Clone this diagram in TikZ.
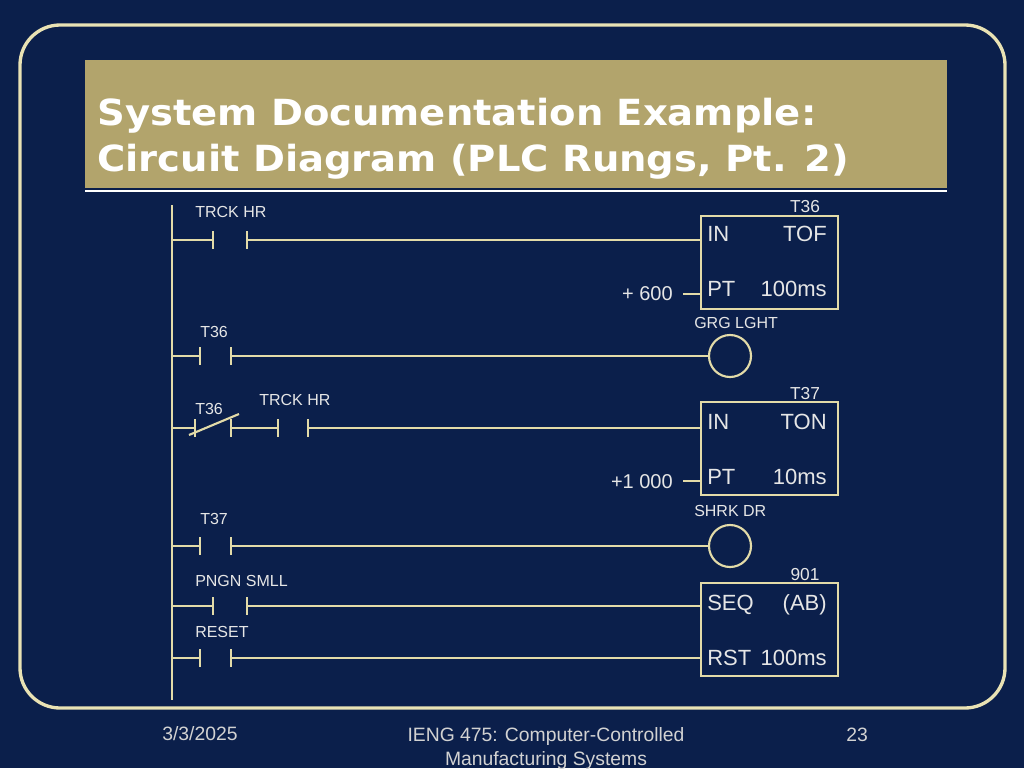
\documentclass[tikz,border=0pt]{standalone}
\usepackage{fontspec}
\setmainfont{Liberation Sans}
\newfontfamily\titlefont{DejaVu Sans}
\definecolor{bg}{HTML}{0B1F4B}
\definecolor{frm}{HTML}{E9E2B4}
\definecolor{bar}{HTML}{B2A46C}
\definecolor{wire}{HTML}{E3DBA8}
\definecolor{txt}{HTML}{E6E6E6}
\begin{document}
\begin{tikzpicture}[x=0.75pt,y=-0.75pt,
  wirel/.style={draw=wire,line width=1.3pt},
  plate/.style={draw=wire,line width=1.6pt},
  lbl/.style={text=txt,font=\fontsize{12}{14}\selectfont,inner sep=0pt},
  boxt/.style={text=txt,font=\fontsize{16.5}{19}\selectfont,inner sep=0pt},
  fbox/.style={draw=wire,line width=1.5pt,minimum width=137*0.75pt,minimum height=93*0.75pt,inner sep=0pt},
  lamp/.style={draw=wire,line width=1.6pt,circle,minimum size=42*0.75pt,inner sep=0pt},
  foot/.style={text=txt!80!gray,font=\fontsize{14.5}{17}\selectfont,inner sep=0pt}]
\fill[bg] (0,0) rectangle (1024,768);
\useasboundingbox (0,0) rectangle (1024,768);
\draw[frm,line width=2.5pt,rounded corners=30pt] (20,25) rectangle (1005,708);
\fill[bar] (85,60) rectangle (947,188);
\draw[white,line width=1pt] (85,191) -- (947,191);
\node[anchor=base west,text=white,font=\titlefont\bfseries\fontsize{27}{30}\selectfont,inner sep=0pt,xscale=1.07] (t1) at (97,125) {System Documentation Example:};
\node[anchor=base west,text=white,font=\titlefont\bfseries\fontsize{27}{30}\selectfont,inner sep=0pt,xscale=1.07] (t2) at (97,171) {Circuit Diagram (PLC Rungs, Pt. 2)};
% rail
\coordinate (rt) at (172,205); \coordinate (rb) at (172,700);
\draw[wirel] (rt) -- (rb);
% boxes
\node[fbox,anchor=north west] (tof) at (700,215) {};
\node[fbox,anchor=north west] (ton) at (700,401) {};
\node[fbox,anchor=north west] (seq) at (700,582) {};
\node[lamp] (l1) at (730,356) {};
\node[lamp] (l2) at (730,546) {};
% box texts
\node[boxt,anchor=base west] at (707,241) {IN};
\node[boxt,anchor=base east] at (827,241) {TOF};
\node[boxt,anchor=base west] at (707,296) {PT};
\node[boxt,anchor=base east] at (827,296) {100ms};
\node[lbl,anchor=base,font=\fontsize{13}{15}\selectfont] at (805,212) {T36};
\node[boxt,anchor=base west] at (707,429) {IN};
\node[boxt,anchor=base east] at (827,429) {TON};
\node[boxt,anchor=base west] at (707,484) {PT};
\node[boxt,anchor=base east] at (827,484) {10ms};
\node[lbl,anchor=base,font=\fontsize{13}{15}\selectfont] at (805,399) {T37};
\node[boxt,anchor=base west] at (707,610) {SEQ};
\node[boxt,anchor=base east] at (827,610) {(AB)};
\node[boxt,anchor=base west] at (707,665) {RST};
\node[boxt,anchor=base east] at (827,665) {100ms};
\node[lbl,anchor=base,font=\fontsize{13}{15}\selectfont] at (805,580) {901};
% preset inputs
\node[boxt,anchor=base east,font=\fontsize{15}{17}\selectfont] (p1) at (673,300) {+ 600};
\node[boxt,anchor=base east,font=\fontsize{15}{17}\selectfont] (p2) at (673,488) {+1 000};
\draw[wirel] (683,294) -- (tof.west |- 0,294);
\draw[wirel] (683,481) -- (ton.west |- 0,481);
% rung 1
\draw[wirel] (172,240) -- (213,240); \draw[plate] (213,231) -- (213,249); \draw[plate] (247,231) -- (247,249);
\draw[wirel] (247,240) -- (tof.west |- 0,240);
\node[lbl,anchor=base west] at (195,217) {TRCK HR};
% rung 2
\draw[wirel] (172,356) -- (200,356); \draw[plate] (200,347) -- (200,365); \draw[plate] (231,347) -- (231,365);
\draw[wirel] (231,356) -- (l1.west);
\node[lbl,anchor=base west] at (200,337) {T36};
\node[lbl,anchor=base west] at (694,328) {GRG LGHT};
% rung 3
\draw[wirel] (172,428) -- (195,428); \draw[plate] (195,419) -- (195,437); \draw[plate] (231,419) -- (231,437);
\draw[plate] (189,435) -- (239,414);
\draw[wirel] (231,428) -- (278,428); \draw[plate] (278,419) -- (278,437); \draw[plate] (308,419) -- (308,437);
\draw[wirel] (308,428) -- (ton.west |- 0,428);
\node[lbl,anchor=base west] at (195,414) {T36};
\node[lbl,anchor=base west] at (259,405) {TRCK HR};
% rung 4
\draw[wirel] (172,546) -- (200,546); \draw[plate] (200,537) -- (200,555); \draw[plate] (231,537) -- (231,555);
\draw[wirel] (231,546) -- (l2.west);
\node[lbl,anchor=base west] at (200,524) {T37};
\node[lbl,anchor=base west] at (694,516) {SHRK DR};
% rung 5
\draw[wirel] (172,606) -- (213,606); \draw[plate] (213,597) -- (213,615); \draw[plate] (247,597) -- (247,615);
\draw[wirel] (247,606) -- (seq.west |- 0,606);
\node[lbl,anchor=base west] at (195,586) {PNGN SMLL};
% rung 6
\draw[wirel] (172,658) -- (200,658); \draw[plate] (200,649) -- (200,667); \draw[plate] (231,649) -- (231,667);
\draw[wirel] (231,658) -- (seq.west |- 0,658);
\node[lbl,anchor=base west] at (195,637) {RESET};
% footer
\node[foot,anchor=base west] at (162,740) {3/3/2025};
\node[foot,anchor=base] at (546,741) {IENG 475: Computer-Controlled};
\node[foot,anchor=base] at (546,765) {Manufacturing Systems};
\node[foot,anchor=base] at (857,741) {23};
\end{tikzpicture}
\end{document}
